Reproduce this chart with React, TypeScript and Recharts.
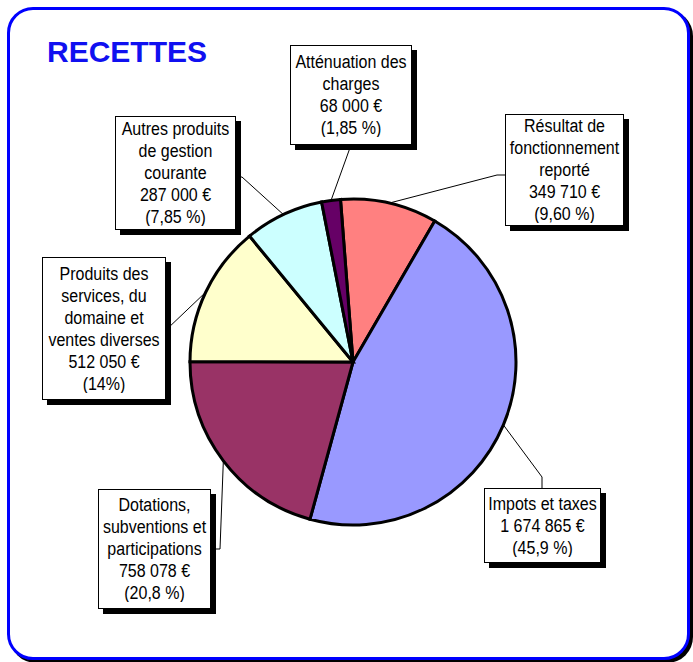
import { PieChart, Pie, Cell } from 'recharts';

const categories = [
  'Résultat de fonctionnement reporté',
  'Impots et taxes',
  'Dotations, subventions et participations',
  'Produits des services, du domaine et ventes diverses',
  'Autres produits de gestion courante',
  'Atténuation des charges',
];
const amounts = [349710, 1674865, 758078, 512050, 287000, 68000];
const amountLabels = ['349 710 €', '1 674 865 €', '758 078 €', '512 050 €', '287 000 €', '68 000 €'];
const percentLabels = ['(9,60 %)', '(45,9 %)', '(20,8 %)', '(14%)', '(7,85 %)', '(1,85 %)'];
const nameLines = [
  ['Résultat de', 'fonctionnement', 'reporté'],
  ['Impots et taxes'],
  ['Dotations,', 'subventions et', 'participations'],
  ['Produits des', 'services, du', 'domaine et', 'ventes diverses'],
  ['Autres produits', 'de gestion', 'courante'],
  ['Atténuation des', 'charges'],
];
const colors = ['#FF8080', '#9999FF', '#993366', '#FFFFCC', '#CCFFFF', '#660066'];

const data = categories.map((name, i) => ({ name, value: amounts[i] }));

// label boxes, placed like the original
const boxes = [
  { left: 505, top: 114, width: 119, height: 112 },
  { left: 484, top: 488, width: 117, height: 75 },
  { left: 98, top: 489, width: 113, height: 120 },
  { left: 42, top: 257, width: 124, height: 143 },
  { left: 115, top: 116, width: 121, height: 114 },
  { left: 290, top: 45, width: 122, height: 100 },
];
const leaders = [
  { elbow: [497, 175], end: [505, 175] },
  { elbow: [542, 477], end: [542, 488] },
  { elbow: [220, 549], end: [211, 549] },
  { elbow: [166, 330], end: [166, 330] },
  { elbow: [242, 177], end: [236, 177] },
  { elbow: [351, 145], end: [351, 145] },
];

const RAD = Math.PI / 180;

const renderLeader = (props: any) => {
  const { cx, cy, midAngle, outerRadius, index } = props;
  const x = cx + outerRadius * Math.cos(-midAngle * RAD);
  const y = cy + outerRadius * Math.sin(-midAngle * RAD);
  const l = leaders[index];
  return (
    <polyline
      points={`${x},${y} ${l.elbow[0]},${l.elbow[1]} ${l.end[0]},${l.end[1]}`}
      fill="none"
      stroke="#000"
      strokeWidth={1}
    />
  );
};

const font = '"Liberation Sans", Arial, sans-serif';

const LabelBox = ({ i }: { i: number }) => {
  const b = boxes[i];
  const lines = [...nameLines[i], amountLabels[i], percentLabels[i]];
  return (
    <div
      style={{
        position: 'absolute',
        left: b.left,
        top: b.top,
        width: b.width,
        height: b.height,
        boxSizing: 'border-box',
        border: '1px solid #000',
        background: '#fff',
        boxShadow: '5px 5px 0 #000',
        display: 'flex',
        alignItems: 'center',
        justifyContent: 'center',
      }}
    >
      <div
        style={{
          fontFamily: font,
          fontSize: 16,
          lineHeight: '20px',
          textAlign: 'center',
          color: '#000',
          whiteSpace: 'nowrap',
          transform: 'scaleY(1.1)',
        }}
      >
        {lines.map((t, k) => (
          <div key={k}>{t}</div>
        ))}
      </div>
    </div>
  );
};

export default function App() {
  return (
    <div style={{ position: 'absolute', left: 0, top: 0, width: 693, height: 662, background: '#fff' }}>
      <div
        style={{
          position: 'absolute',
          left: 7,
          top: 7,
          width: 683,
          height: 653,
          boxSizing: 'border-box',
          border: '3px solid #0000FF',
          borderRadius: 26,
          boxShadow: '3px 3px 0 #000',
          background: '#fff',
        }}
      />
      <div
        style={{
          position: 'absolute',
          left: 47,
          top: 37,
          fontFamily: font,
          fontWeight: 'bold',
          fontSize: 30,
          lineHeight: '30px',
          color: '#1010F0',
        }}
      >
        RECETTES
      </div>
      <div style={{ position: 'absolute', left: 0, top: 0 }}>
        <PieChart width={693} height={662} margin={{ top: 0, right: 0, bottom: 0, left: 0 }}>
          <Pie
            data={data}
            dataKey="value"
            nameKey="name"
            cx={353}
            cy={362}
            outerRadius={163}
            startAngle={94.4}
            endAngle={-265.6}
            stroke="#000"
            strokeWidth={3}
            labelLine={false}
            label={renderLeader}
            isAnimationActive={false}
          >
            {data.map((d, i) => (
              <Cell key={d.name} fill={colors[i]} />
            ))}
          </Pie>
        </PieChart>
      </div>
      {boxes.map((_, i) => (
        <LabelBox key={i} i={i} />
      ))}
    </div>
  );
}
